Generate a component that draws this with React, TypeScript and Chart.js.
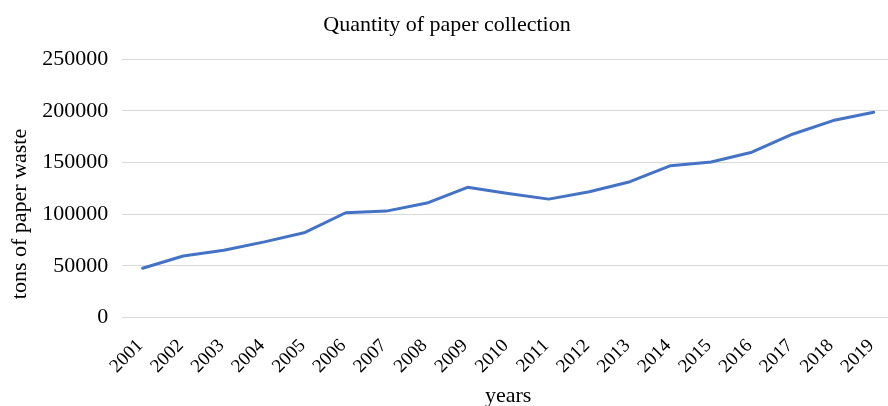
import React, { useEffect, useRef } from "react";
import { Chart, registerables } from "chart.js";

Chart.register(...registerables);

const years = ["2001","2002","2003","2004","2005","2006","2007","2008","2009","2010","2011","2012","2013","2014","2015","2016","2017","2018","2019"];
const paperTons = [47800, 59600, 65200, 73300, 82400, 101400, 103000, 110800, 126000, 120100, 114600, 121700, 131400, 146900, 150500, 159900, 177300, 190500, 198500];
const yTicks = [0, 50000, 100000, 150000, 200000, 250000];

const chartTitle = "Quantity of paper collection";
const yTitle = "tons of paper waste";
const xTitle = "years";

const FONT = "'Liberation Serif', 'Times New Roman', serif";

// Draws the vertical axis title centred on the plot + category label band (as in the original)
const yTitlePlugin = {
  id: "yTitleBand",
  afterDraw(chart: any) {
    const { ctx, chartArea } = chart;
    const xScale = chart.scales.x;
    const cy = (chartArea.top + xScale.bottom - 37) / 2;
    ctx.save();
    ctx.translate(20, cy);
    ctx.rotate(-Math.PI / 2);
    ctx.font = `22px ${FONT}`;
    ctx.fillStyle = "#000";
    ctx.textAlign = "center";
    ctx.textBaseline = "middle";
    ctx.fillText(yTitle, 0, 0);
    ctx.restore();
  },
};

export default function App() {
  const ref = useRef<HTMLCanvasElement | null>(null);
  useEffect(() => {
    if (!ref.current) return;
    const chart = new Chart(ref.current, {
      type: "line",
      data: {
        labels: years,
        datasets: [
          {
            label: "paper",
            data: paperTons,
            borderColor: "#4472C4",
            backgroundColor: "#4472C4",
            borderWidth: 3,
            pointRadius: 0,
            tension: 0,
            borderCapStyle: "round",
            borderJoinStyle: "round",
          },
        ],
      },
      plugins: [yTitlePlugin],
      options: {
        responsive: false,
        animation: false,
        layout: { padding: 0 },
        plugins: {
          legend: { display: false },
          tooltip: { enabled: false },
          title: {
            display: true,
            text: chartTitle,
            color: "#000",
            font: { family: FONT, size: 22, weight: "normal" },
            padding: { top: 12, bottom: 20.6 },
          },
        },
        scales: {
          x: {
            type: "category",
            offset: true,
            grid: { display: false, drawTicks: false },
            border: { display: false },
            ticks: {
              color: "#000",
              font: { family: FONT, size: 19 },
              maxRotation: 45,
              minRotation: 45,
              padding: 17,
              labelOffset: -2.5,
              autoSkip: false,
            },
            title: {
              display: true,
              text: xTitle,
              color: "#000",
              font: { family: FONT, size: 22 },
              padding: { top: 0, bottom: -3.5 },
            },
            afterFit: (s: any) => {
              s.height = 88.3;
              s.paddingLeft = 0;
              s.paddingRight = 0;
            },
          },
          y: {
            min: 0,
            max: 250000,
            afterBuildTicks: (s: any) => {
              s.ticks = yTicks.map((v) => ({ value: v }));
            },
            grid: { color: "#d9d9d9", lineWidth: 1, drawTicks: false },
            border: { display: false },
            ticks: {
              color: "#000",
              font: { family: FONT, size: 22 },
              padding: 14,
              callback: (v: any) => String(v),
            },
            title: { display: false },
            afterFit: (s: any) => {
              s.width = 122.3;
            },
          },
        },
      },
    });
    return () => chart.destroy();
  }, []);
  return (
    <div style={{ position: "fixed", left: 0, top: 0, width: 888, height: 406, overflow: "hidden", background: "#fff" }}>
      <canvas ref={ref} width={894} height={406} style={{ display: "block" }} />
    </div>
  );
}
